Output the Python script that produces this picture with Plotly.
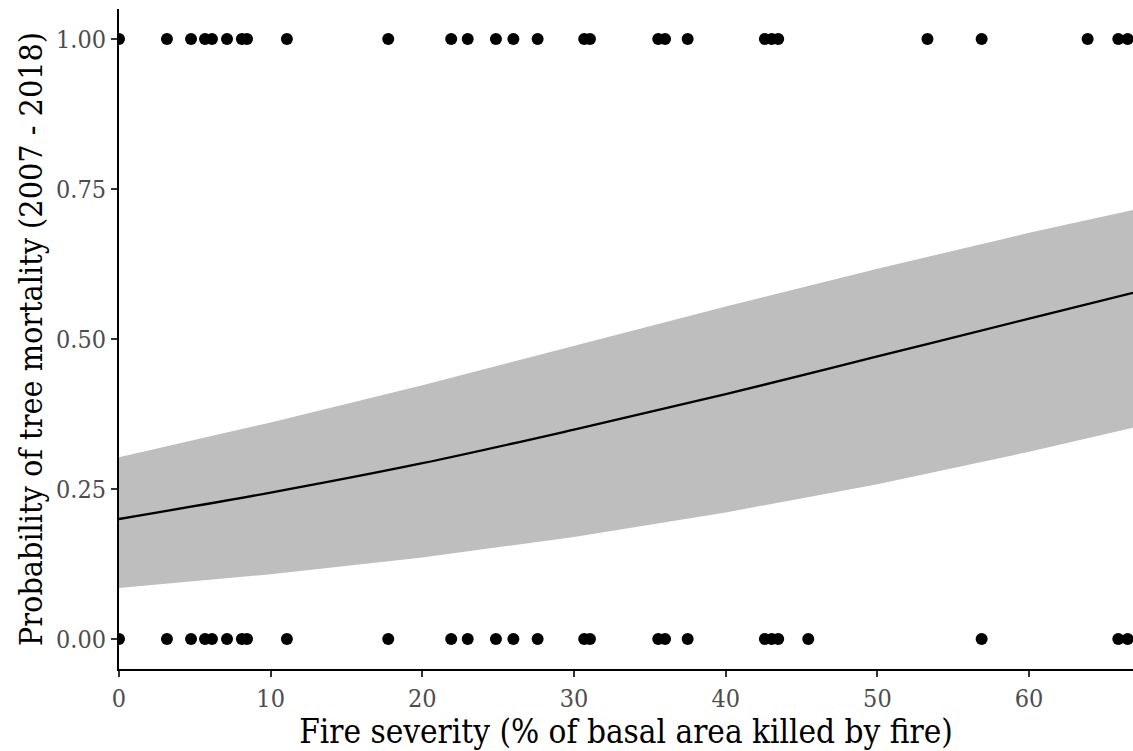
import plotly.graph_objects as go

# observed trees: fire severity (%) for trees that died (1) and survived (0)
x_dead = [0, 3.16, 4.75, 5.67, 6.13, 7.12, 8.1, 8.44, 11.07, 17.75, 21.9, 22.99, 24.85, 26.0,
          27.6, 30.67, 31.05, 35.55, 36.0, 37.49, 42.58, 43.03, 43.46, 53.3, 56.87, 63.86, 65.88, 66.5]
x_alive = [0, 3.16, 4.75, 5.67, 6.13, 7.12, 8.1, 8.44, 11.07, 17.75, 21.9, 22.99, 24.85, 26.0,
           27.6, 30.67, 31.05, 35.55, 36.0, 37.49, 42.58, 43.03, 43.46, 45.44, 56.87, 65.88, 66.5]

# fitted curve and confidence band
fit_x = [0, 10, 20, 30, 40, 50, 60, 66.85]
fit_y = [0.200, 0.244, 0.293, 0.349, 0.408, 0.471, 0.534, 0.577]
ci_upper = [0.303, 0.361, 0.423, 0.488, 0.554, 0.617, 0.677, 0.715]
ci_lower = [0.085, 0.108, 0.136, 0.170, 0.211, 0.258, 0.312, 0.352]

FONT = "DejaVu Serif Condensed, Liberation Serif, serif"

fig = go.Figure()
fig.add_trace(go.Scatter(x=fit_x + fit_x[::-1], y=ci_upper + ci_lower[::-1], fill="toself",
                         fillcolor="#BEBEBE", line=dict(width=0), mode="lines",
                         hoverinfo="skip", showlegend=False))
fig.add_trace(go.Scatter(x=fit_x, y=fit_y, mode="lines", line=dict(color="black", width=2.3, shape="spline"),
                         showlegend=False))
fig.add_trace(go.Scatter(x=x_dead, y=[1] * len(x_dead), mode="markers",
                         marker=dict(color="black", size=12), showlegend=False))
fig.add_trace(go.Scatter(x=x_alive, y=[0] * len(x_alive), mode="markers",
                         marker=dict(color="black", size=12), showlegend=False))

fig.update_layout(
    width=1133, height=751,
    margin=dict(l=119, r=0, t=9, b=82),
    plot_bgcolor="white", paper_bgcolor="white",
    font=dict(family=FONT, color="black"),
)
fig.update_xaxes(range=[0, 66.85], tickvals=[0, 10, 20, 30, 40, 50, 60],
                 showgrid=False, zeroline=False, showline=True, linecolor="black", linewidth=2,
                 ticks="outside", ticklen=6, tickwidth=1.5, tickcolor="#333333",
                 tickfont=dict(size=25, color="#4D4D4D", family=FONT),
                 title=dict(text="Fire severity (% of basal area killed by fire)",
                            font=dict(size=33, family=FONT), standoff=0))
fig.update_yaxes(range=[-0.05, 1.05], tickvals=[0, 0.25, 0.5, 0.75, 1.0],
                 ticktext=["0.00", "0.25", "0.50", "0.75", "1.00"],
                 showgrid=False, zeroline=False, showline=True, linecolor="black", linewidth=2,
                 ticks="outside", ticklen=6, tickwidth=1.5, tickcolor="#333333",
                 tickfont=dict(size=25, color="#4D4D4D", family=FONT),
                 title=dict(text="Probability of tree mortality (2007 - 2018)",
                            font=dict(size=32, family=FONT), standoff=4))
fig.write_html("out.html")
